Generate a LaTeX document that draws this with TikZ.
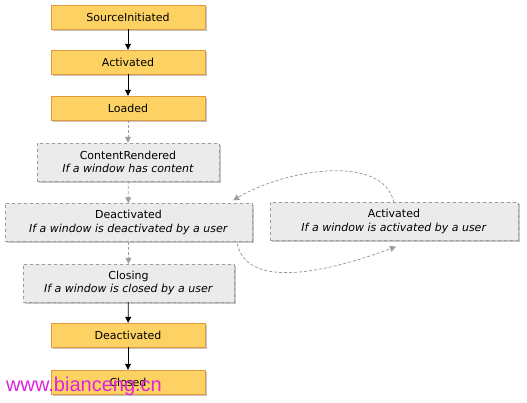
\documentclass[tikz,border=0pt]{standalone}
\usepackage{fontspec}
\setmainfont{DejaVu Sans}
\newfontfamily\markfont{Liberation Sans}
\usepackage{tikz}
\usetikzlibrary{arrows.meta,positioning,shadows,calc}
\definecolor{stateFill}{HTML}{FDD262}
\definecolor{stateEdge}{HTML}{E39A3E}
\definecolor{eventFill}{HTML}{EBEBEB}
\definecolor{eventEdge}{HTML}{9C9C9C}
\definecolor{markC}{HTML}{E020E0}

\begin{document}
\begin{tikzpicture}[
  x=1pt,y=1pt,
  state/.style={draw=stateEdge,fill=stateFill,font=\fontsize{11}{13.5}\selectfont,
                minimum width=154pt,minimum height=24pt,inner sep=0pt,
                drop shadow={shadow xshift=2pt,shadow yshift=-2pt,fill=black!45,opacity=.5}},
  event/.style={draw=eventEdge,dashed,fill=eventFill,align=center,
                font=\fontsize{11}{13.5}\selectfont,minimum height=38pt,inner sep=0pt,
                drop shadow={shadow xshift=2pt,shadow yshift=-2pt,fill=black!45,opacity=.5}},
  arr/.style={-{Triangle[length=6pt,width=6pt]},thick,black},
  darr/.style={-{Triangle[length=6pt,width=6pt]},thick,eventEdge,dash pattern=on 3pt off 2pt}
]
  \useasboundingbox (0,0) rectangle (527,-403);

  % Main column
  \node[state] (src) at (128,-17) {SourceInitiated};
  \node[state] (act) at (128,-62) {Activated};
  \node[state] (load) at (128,-108) {Loaded};
  \node[event,minimum width=182pt] (content) at (128,-162)
    {ContentRendered\\\textit{If a window has content}};
  \node[event,minimum width=247pt] (deact) at (128.5,-222.5)
    {Deactivated\\\textit{If a window is deactivated by a user}};
  \node[event,minimum width=211pt] (closing) at (128.5,-283)
    {Closing\\\textit{If a window is closed by a user}};
  \node[state] (deact2) at (128,-335) {Deactivated};
  \node[state] (closed) at (128,-382) {Closed};

  % Side event
  \node[event,minimum width=248pt] (actu) at (394,-221.5)
    {Activated\\\textit{If a window is activated by a user}};

  % Arrows
  \draw[arr] (src) -- (act);
  \draw[arr] (act) -- (load);
  \draw[darr] (load) -- (content);
  \draw[darr] (content) -- (deact);
  \draw[darr] (deact) -- (closing);
  \draw[arr] (closing) -- (deact2);
  \draw[arr] (deact2) -- (closed);

  % Loop between the two events
  \draw[darr] (actu.north) .. controls +(-12,50) and +(50,30) ..
    ([xshift=-19pt,yshift=3pt]deact.north east);
  \draw[darr] ([xshift=-15pt,yshift=-2pt]deact.south east) .. controls +(10,-46) and +(-70,-26) ..
    ([xshift=2pt,yshift=-6pt]actu.south);

  % Watermark
  \node[anchor=west,font=\markfont\fontsize{20}{20}\selectfont,text=markC,inner sep=0pt]
    (mark) at (6,-386) {www.bianceng.cn};
\end{tikzpicture}
\end{document}
